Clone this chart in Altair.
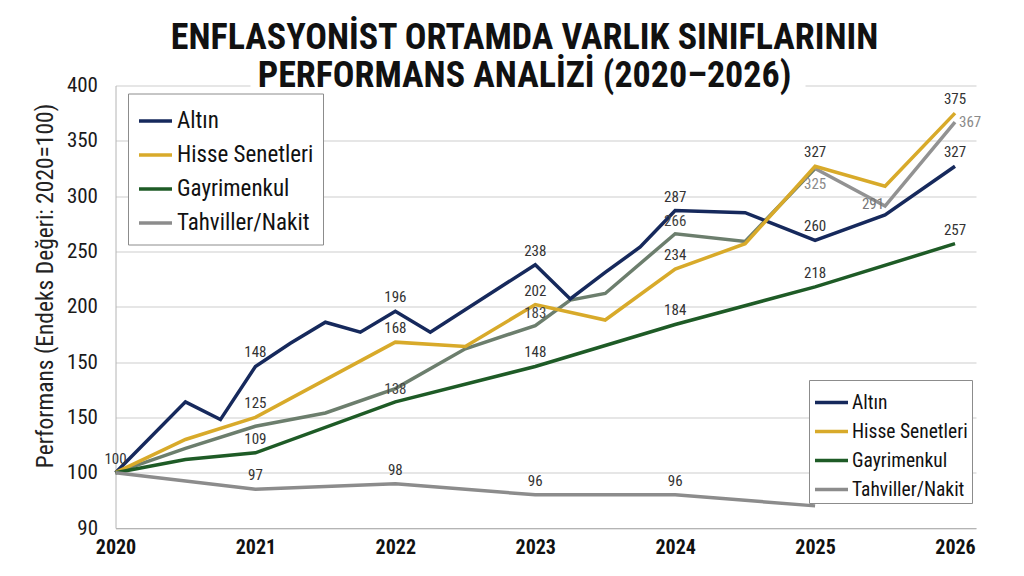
import altair as alt
import pandas as pd

FONT = "Liberation Sans Narrow, Roboto Condensed, DejaVu Sans Condensed, Arial Narrow, sans-serif"

TITLE_LINES = ["ENFLASYONİST ORTAMDA VARLIK SINIFLARININ", "PERFORMANS ANALİZİ (2020–2026)"]
Y_TITLE = "Performans (Endeks Değeri: 2020=100)"

SERIES = ["Altın", "Hisse Senetleri", "Gayrimenkul", "Tahviller/Nakit"]
COLORS = ["#16295c", "#d8aa2a", "#1e5b26", "#8c8c8c"]

# index values (2020 = 100)
altin_years = [2020, 2020.5, 2020.75, 2021, 2021.25, 2021.5, 2021.75, 2022, 2022.25,
               2023, 2023.25, 2023.5, 2023.75, 2024, 2024.5, 2025, 2025.5, 2026]
altin_vals = [100, 132, 124, 148, 167, 186, 177, 196, 177,
              238, 207, 231, 254, 287, 285, 260, 283, 327]

hisse_years = [2020, 2020.5, 2021, 2022, 2022.5, 2023, 2023.5, 2024, 2024.5, 2025, 2025.5, 2026]
hisse_vals = [100, 115, 125, 168, 164, 202, 188, 234, 257, 327, 309, 375]

gayri_years = [2020, 2020.5, 2021, 2022, 2023, 2024, 2025, 2026]
gayri_vals = [100, 106, 109, 132, 148, 184, 218, 257]

tahvil_years = [2020, 2021, 2022, 2023, 2024, 2025]
tahvil_vals = [100, 97, 98, 96, 96, 94]

# secondary trace drawn without a legend entry, and its grey continuation
karma_years = [2020, 2020.5, 2021, 2021.5, 2022, 2022.5, 2023, 2023.25, 2023.5, 2024, 2024.5, 2025]
karma_vals = [100, 111, 121, 127, 138, 162, 183, 206, 212, 266, 259, 325]
devam_years = [2025, 2025.5, 2026]
devam_vals = [325, 291, 367]

X_TICKS = [2020, 2021, 2022, 2023, 2024, 2025, 2026]
Y_TICKS = [90, 100, 125, 150, 200, 250, 300, 350, 400]

LABELED = {
    "Altın": [2020, 2021, 2022, 2023, 2024, 2025, 2026],
    "Hisse Senetleri": [2021, 2022, 2023, 2024, 2025, 2026],
    "Gayrimenkul": [2021, 2023, 2024, 2025, 2026],
    "Tahviller/Nakit": [2021, 2022, 2023, 2024],
}
KARMA_LABELED = [2022, 2023, 2024]


def frame(name, years, vals):
    return pd.DataFrame({"seri": name, "yil": years, "deger": vals})


main_df = pd.concat([
    frame("Altın", altin_years, altin_vals),
    frame("Hisse Senetleri", hisse_years, hisse_vals),
    frame("Gayrimenkul", gayri_years, gayri_vals),
    frame("Tahviller/Nakit", tahvil_years, tahvil_vals),
], ignore_index=True)
karma_df = frame("karma", karma_years, karma_vals)
devam_df = frame("devam", devam_years, devam_vals)

label_df = main_df[[y in LABELED[s] for s, y in zip(main_df["seri"], main_df["yil"])]]
karma_label_df = karma_df[karma_df["yil"].isin(KARMA_LABELED)]

W, H = 860.5, 442.5
STEP = H / 8

x_enc = alt.X(
    "yil:Q",
    scale=alt.Scale(domain=[2020, 2026.15], nice=False, zero=False),
    axis=alt.Axis(values=X_TICKS, format="d", title=None, grid=False, ticks=False,
                  labelFont=FONT, labelFontSize=20, labelFontWeight="bold",
                  labelColor="#111111", labelPadding=9, domainColor="#b4b4b4",
                  labelFlush=False, labelOverlap=False),
)
y_enc = alt.Y(
    "deger:Q",
    scale=alt.Scale(domain=[90, 100, 150, 400], range=[H, H - STEP, H - 3 * STEP, 0],
                    nice=False, zero=False),
    axis=alt.Axis(values=Y_TICKS, labelExpr="datum.value == 125 ? '150' : datum.label",
                  ticks=False, grid=True, gridColor="#cdcdcd", gridWidth=1,
                  domainColor="#b4b4b4", labelFont=FONT, labelFontSize=21,
                  labelColor="#1a1a1a", labelPadding=18, labelOverlap=False,
                  title=Y_TITLE, titleFont=FONT, titleFontSize=23.5,
                  titleFontWeight="normal", titleColor="#222222",
                  titleAngle=270, titleX=-70, titleY=200, titleAlign="center",
                  titleBaseline="middle"),
)

color_scale = alt.Scale(domain=SERIES, range=COLORS)

legend_top = alt.Legend(
    orient="none", legendX=12.5, legendY=8, title=None, fillColor="white",
    strokeColor="#8c8c8c", padding=9, symbolType="stroke", symbolSize=1089,
    symbolStrokeWidth=3.5, labelFont=FONT, labelFontSize=23, labelColor="#111111",
    rowPadding=3, labelOffset=3,
)
legend_bottom = alt.Legend(
    orient="none", legendX=693.5, legendY=294.5, title=None, fillColor="white",
    strokeColor="#8c8c8c", padding=4, symbolType="stroke", symbolSize=1089,
    symbolStrokeWidth=3.5, labelFont=FONT, labelFontSize=19.5, labelColor="#111111",
    rowPadding=1, labelOffset=2,
)

karma_line = alt.Chart(karma_df).mark_line(color="#6c7e6d", strokeWidth=3.5).encode(x=x_enc, y=y_enc)
devam_line = alt.Chart(devam_df).mark_line(color="#929292", strokeWidth=3.5).encode(x=x_enc, y=y_enc)

main_lines = alt.Chart(main_df).mark_line(strokeWidth=3.5).encode(
    x=x_enc, y=y_enc,
    color=alt.Color("seri:N", scale=color_scale, sort=SERIES, legend=legend_top),
)

# second legend: one point per series, so the line itself draws nothing
legend2_layer = alt.Chart(main_df[main_df["yil"] == 2020]).mark_line(strokeWidth=3.5).encode(
    x=x_enc, y=y_enc,
    color=alt.Color("seri:N", scale=color_scale, sort=SERIES, legend=legend_bottom),
)

label_style = dict(font=FONT, fontSize=15, baseline="middle")

main_labels = alt.Chart(label_df).mark_text(dy=-14, color="#333333", **label_style).encode(
    x=x_enc, y=y_enc, text=alt.Text("deger:Q", format=".0f"))

karma_on_line = alt.Chart(karma_label_df[karma_label_df["yil"] == KARMA_LABELED[0]]).mark_text(
    dy=0, color="#444444", **label_style).encode(x=x_enc, y=y_enc, text=alt.Text("deger:Q", format=".0f"))
karma_above = alt.Chart(karma_label_df[karma_label_df["yil"] != KARMA_LABELED[0]]).mark_text(
    dy=-13, color="#444444", **label_style).encode(x=x_enc, y=y_enc, text=alt.Text("deger:Q", format=".0f"))

devam_below = alt.Chart(devam_df[devam_df["yil"] == devam_years[0]]).mark_text(
    dy=16, color="#8a8a8a", **label_style).encode(x=x_enc, y=y_enc, text=alt.Text("deger:Q", format=".0f"))
devam_mid = alt.Chart(devam_df[devam_df["yil"] == devam_years[1]]).mark_text(
    dx=-12, dy=-2, color="#777777", **label_style).encode(x=x_enc, y=y_enc, text=alt.Text("deger:Q", format=".0f"))
devam_end = alt.Chart(devam_df[devam_df["yil"] == devam_years[2]]).mark_text(
    dx=4, dy=0, align="left", color="#8a8a8a", **label_style).encode(
    x=x_enc, y=y_enc, text=alt.Text("deger:Q", format=".0f"))

# white band that lets the second title line sit over the top grid line
title_band = alt.Chart(pd.DataFrame({"k": [0]})).mark_rect(color="white").encode(
    x=alt.value(135), x2=alt.value(690), y=alt.value(-4), y2=alt.value(4))

title_font = dict(font=FONT, fontSize=36, fontWeight="bold", color="#111111",
                  align="center", baseline="middle")
title1 = alt.Chart(pd.DataFrame({"t": [TITLE_LINES[0]]})).mark_text(**title_font).encode(
    x=alt.value(409), y=alt.value(-47.5), text="t:N")
title2 = alt.Chart(pd.DataFrame({"t": [TITLE_LINES[1]]})).mark_text(**title_font).encode(
    x=alt.value(409), y=alt.value(-9.5), text="t:N")

chart = alt.layer(
    legend2_layer, karma_line, devam_line, main_lines,
    main_labels, karma_on_line, karma_above, devam_below, devam_mid, devam_end,
    title_band, title1, title2,
).resolve_scale(color="independent").resolve_legend(color="independent").properties(
    width=W, height=H,
    autosize=alt.AutoSizeParams(type="none"),
    padding={"left": 115.5, "top": 85.5, "right": 48, "bottom": 48},
    background="white",
).configure_view(stroke=None)

chart.save("out.html", embed_options={"renderer": "svg", "actions": False})
